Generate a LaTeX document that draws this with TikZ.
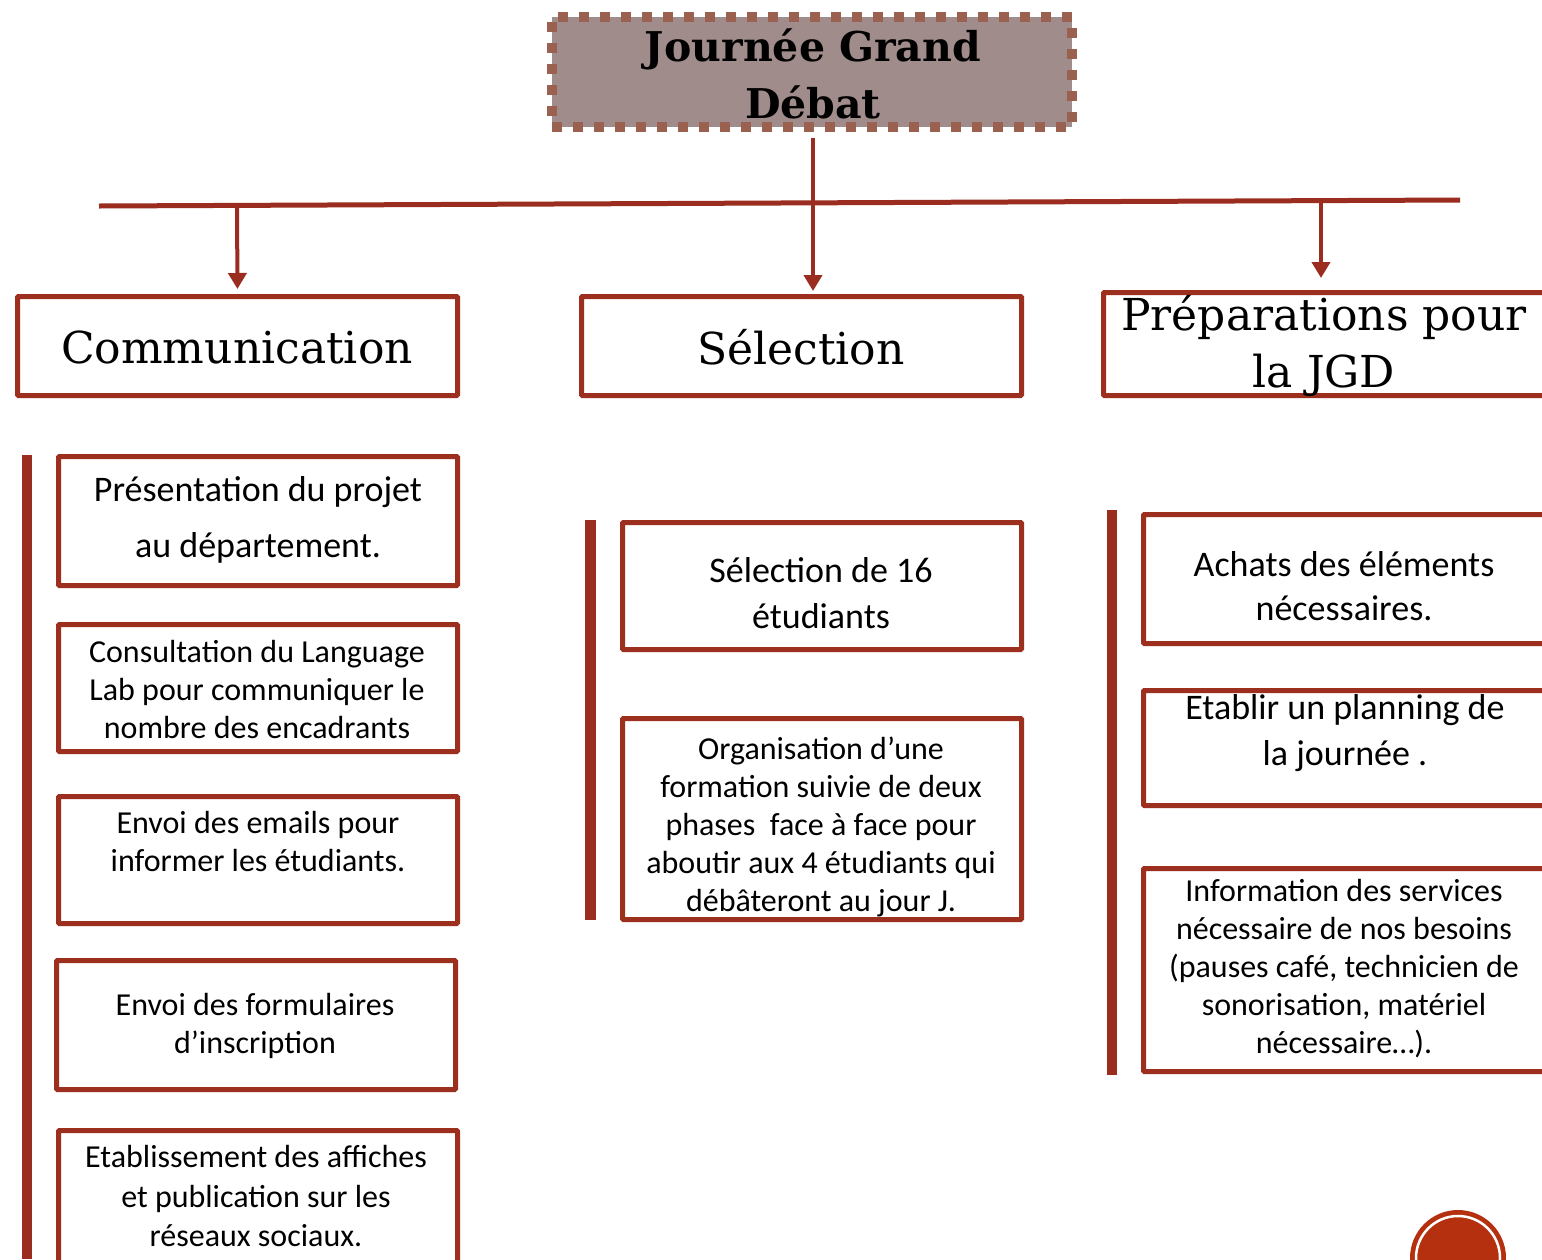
\documentclass[tikz,border=0pt]{standalone}
\usepackage{fontspec}
\usetikzlibrary{arrows.meta,calc}
\newfontfamily\carl{Carlito}
\newfontfamily\slab{DejaVu Serif}
\definecolor{boxred}{HTML}{9C2F1E}
\definecolor{barred}{HTML}{9B2D20}
\definecolor{dotbrown}{HTML}{9A6050}
\definecolor{titlefill}{HTML}{A08C8A}
\definecolor{circred}{HTML}{B5300F}
\tikzset{
  box/.style={draw=boxred, line width=5pt, rounded corners=1pt, inner sep=0pt, fill=white},
  titlebox/.style={draw=dotbrown, line width=10pt, dash pattern=on 10pt off 11pt, fill=titlefill, inner sep=0pt},
  arr/.style={draw=barred, line width=4pt, -{Triangle[width=18pt,length=16pt]}},
  hline/.style={draw=barred, line width=5pt},
  bar/.style={fill=barred, draw=none},
  head/.style={align=center, inner sep=0pt, font=\slab\fontsize{44}{57}\selectfont},
  big/.style={align=center, inner sep=0pt, font=\carl\fontsize{36}{46}\selectfont},
  small/.style={align=center, inner sep=0pt, font=\carl\fontsize{32}{38}\selectfont},
}
\begin{document}
\begin{tikzpicture}[x=1pt,y=-1pt]
\useasboundingbox (0,0) rectangle (1542,1259);
\clip (0,0) rectangle (1542,1259);
\fill[white] (0,0) rectangle (1542,1259);

% title
\node[titlebox, minimum width=520pt, minimum height=110pt] (title) at (812,72) {};
\node[align=center, inner sep=0pt, font=\slab\bfseries\fontsize{41}{57}\selectfont] (titletxt) at (813,74) {Journée Grand\\Débat};

% main boxes
\node[box, minimum width=440pt, minimum height=99pt] (comm) at (237.5,346) {};
\node[head] (commtxt) at (237,347) {Communication};
\node[box, minimum width=440pt, minimum height=99pt] (sel) at (801.5,346) {};
\node[head] (seltxt) at (801,347) {Sélection};
\node[box, minimum width=441pt, minimum height=103pt] (prep) at (1324,344) {};
\node[head] (preptxt) at (1324,346) {Préparations pour\\la JGD};

% connectors
\coordinate (hl) at (99,206);
\coordinate (hr) at (1460,200);
\draw[hline] (hl) -- (hr);
\coordinate (a1) at (237,205);
\coordinate (a3) at (1321,201);
\coordinate (a2) at (813,138);
\draw[arr, shorten >=3pt] (a2) -- (a2 |- sel.north);
\draw[arr, shorten >=5pt] (a1) -- (comm.north);
\draw[arr, shorten >=12pt] (a3) -- (a3 |- prep.north);

% bars
\fill[bar] (22,455) rectangle (32,1259);
\fill[bar] (585,520) rectangle (596,920);
\fill[bar] (1107,510) rectangle (1117,1075);

% left column
\node[box, minimum width=399pt, minimum height=129pt] (b1) at (258,521) {};
\node[big, font=\carl\fontsize{36}{56}\selectfont] (t1) at (258,520) {Présentation du projet\\au département.};
\node[box, minimum width=399pt, minimum height=127pt] (b2) at (258,688) {};
\node[small] (t2) at (257,689) {Consultation du Language\\Lab pour communiquer le\\nombre des encadrants};
\node[box, minimum width=399pt, minimum height=127pt] (b3) at (258,860) {};
\node[small] (t3) at (258,842) {Envoi des emails pour\\informer les étudiants.};
\node[box, minimum width=399pt, minimum height=129pt] (b4) at (256,1025) {};
\node[small] (t4) at (255,1026) {Envoi des formulaires\\d’inscription};
\node[box, minimum width=399pt, minimum height=167pt] (b5) at (258,1214) {};
\node[small, font=\carl\fontsize{32}{39.5}\selectfont] (t5) at (256,1196) {Etablissement des affiches\\et publication sur les\\réseaux sociaux.};

% middle column
\node[box, minimum width=399pt, minimum height=127pt] (m1) at (822,586) {};
\node[big] (tm1) at (821,593) {Sélection de 16\\étudiants};
\node[box, minimum width=399pt, minimum height=201pt] (m2) at (822,819) {};
\node[small] (tm2) at (821,827) {Organisation d’une\\formation suivie de deux\\phases\ \ face à face pour\\aboutir aux 4 étudiants qui\\débâteront au jour J.};

% right column
\node[box, minimum width=401pt, minimum height=129pt] (r1) at (1344,579) {};
\node[big, font=\carl\fontsize{36}{44}\selectfont] (tr1) at (1344,586) {Achats des éléments\\nécessaires.};
\node[box, minimum width=401pt, minimum height=115pt] (r2) at (1344,748) {};
\node[big] (tr2) at (1345,733) {Etablir un planning de\\la journée .};
\node[box, minimum width=401pt, minimum height=203pt] (r3) at (1344,970) {};
\node[small] (tr3) at (1344,969) {Information des services\\nécessaire de nos besoins\\(pauses café, technicien de\\sonorisation, matériel\\nécessaire…).};

% decorative circle
\fill[circred] (1458,1258) circle (48);
\draw[white, line width=2.5pt] (1458,1258) circle (42);
\end{tikzpicture}
\end{document}
